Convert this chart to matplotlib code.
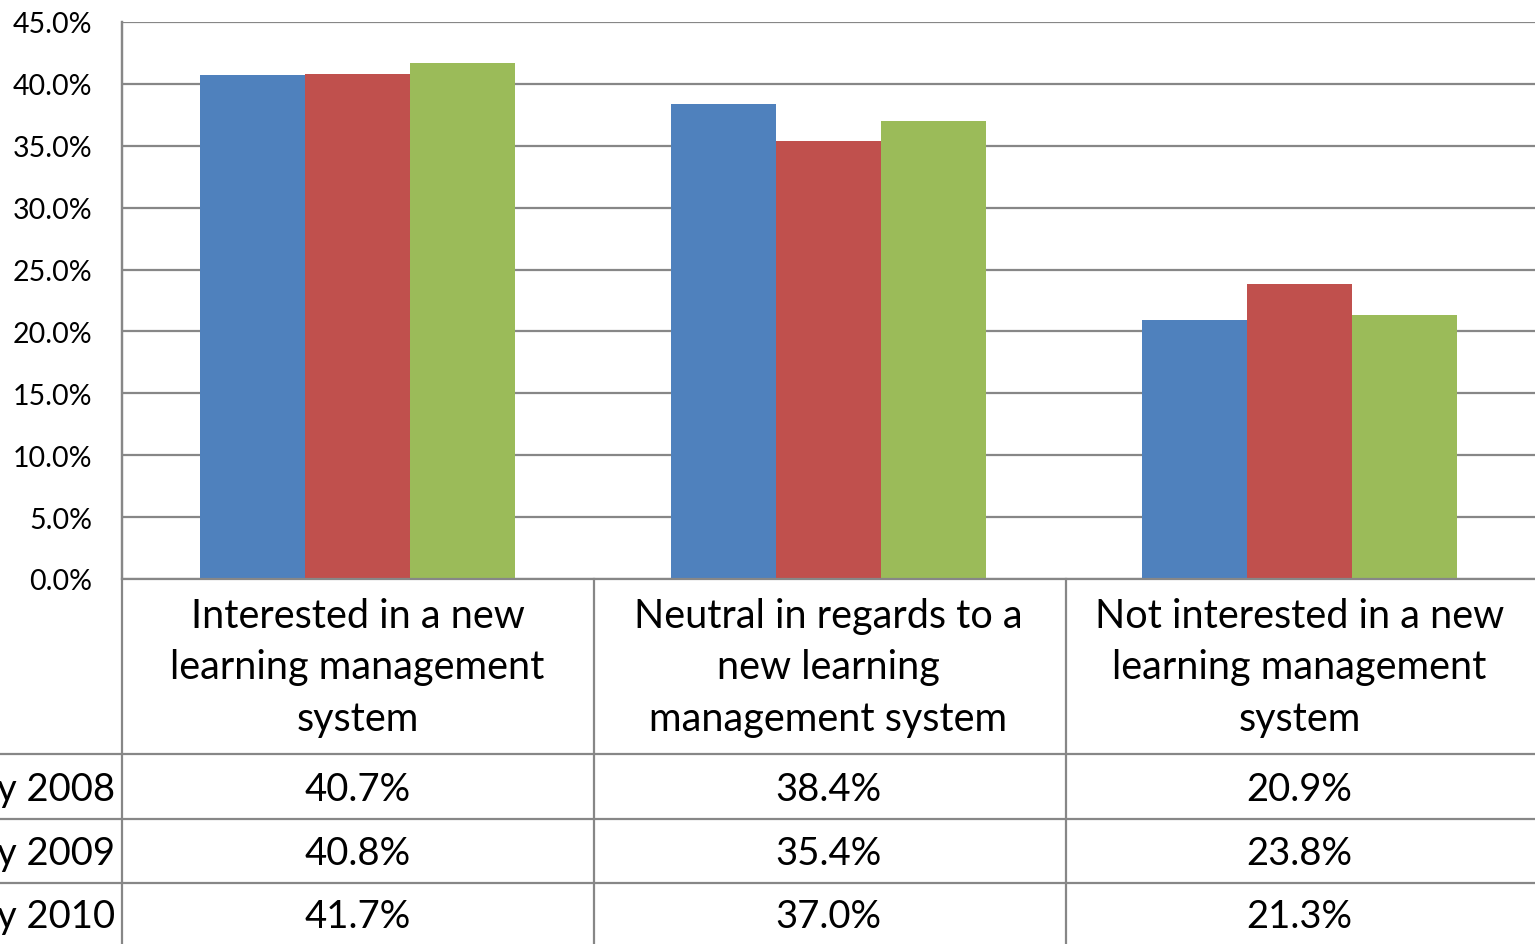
import numpy as np
import matplotlib
matplotlib.use("Agg")
import matplotlib.pyplot as plt
from matplotlib.transforms import blended_transform_factory

plt.rcParams['font.family'] = ['Lato', 'DejaVu Sans']

categories = ["Interested in a new\nlearning management\nsystem",
              "Neutral in regards to a\nnew learning\nmanagement system",
              "Not interested in a new\nlearning management\nsystem"]
series_names = ["Survey 2008", "Survey 2009", "Survey 2010"]
survey_2008 = [40.7, 38.4, 20.9]
survey_2009 = [40.8, 35.4, 23.8]
survey_2010 = [41.7, 37.0, 21.3]
colors = ["#4F81BD", "#C0504D", "#9BBB59"]
yticks = [0, 5, 10, 15, 20, 25, 30, 35, 40, 45]

W, H = 1535, 945
fig = plt.figure(figsize=(W / 100, H / 100), dpi=100)
ax = fig.add_axes([122 / W, (H - 580) / H, (W - 122) / W, (580 - 23) / H])

grid_col = "#878787"
values = [survey_2008, survey_2009, survey_2010]
x = np.arange(len(categories))
bw = 0.223
for i, vals in enumerate(values):
    ax.bar(x + (i - 1) * bw, vals, bw, color=colors[i], zorder=3)

ax.set_xlim(-0.5, 2.5)
ax.set_ylim(0, 45)
ax.set_yticks(yticks)
ax.set_yticklabels(["%.1f%%" % t for t in yticks], fontsize=20.5)
ax.tick_params(axis='y', length=0, pad=21.5)
ax.set_xticks([])
ax.yaxis.grid(True, color=grid_col, linewidth=1.6, zorder=0)
for s in ['top', 'right', 'bottom']:
    ax.spines[s].set_visible(False)
ax.spines['left'].set_color(grid_col)
ax.spines['left'].set_linewidth(1.6)

# data table below the axes
def fy(px):
    return (H - px) / H

lw = 1.6
fig.add_artist(plt.Line2D([122 / W, 1], [fy(580), fy(580)], color=grid_col, lw=lw))
for py in [755, 820, 884]:
    fig.add_artist(plt.Line2D([0, 1], [fy(py), fy(py)], color=grid_col, lw=lw))
for px in [122, 594, 1066]:
    fig.add_artist(plt.Line2D([px / W, px / W], [fy(23 if px == 122 else 580), 0],
                              color=grid_col, lw=lw))

tr = blended_transform_factory(ax.transData, fig.transFigure)
for j, c in enumerate(categories):
    ax.text(x[j], fy(668), c, transform=tr, ha='center', va='center',
            fontsize=28.5, linespacing=1.49, clip_on=False)

row_y = [790, 854, 917]
for i, vals in enumerate(values):
    fig.text(115 / W, fy(row_y[i]), series_names[i], ha='right', va='center', fontsize=27.5)
    for j, v in enumerate(vals):
        ax.text(x[j], fy(row_y[i]), "%.1f%%" % v, transform=tr, ha='center',
                va='center', fontsize=27.5, clip_on=False)

fig.savefig("out.png", dpi=100)
